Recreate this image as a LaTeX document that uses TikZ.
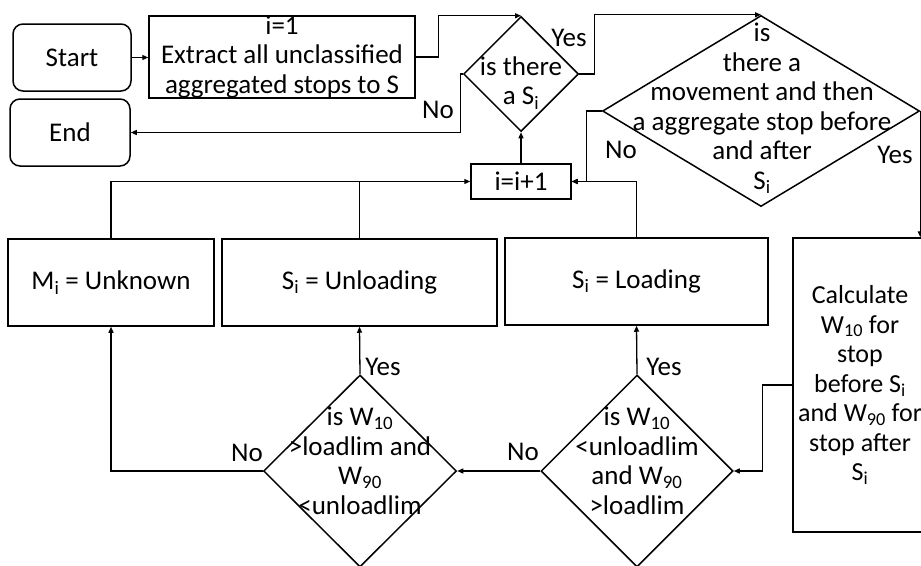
\documentclass[tikz,border=0pt]{standalone}
\usepackage{fontspec}
\setmainfont{Carlito}
\usetikzlibrary{arrows.meta,shapes.geometric}
\begin{document}
\begin{tikzpicture}[x=1pt,y=-1pt,
  every node/.style={font=\fontsize{27}{29.5}\selectfont},
  box/.style={draw,line width=1.5pt,inner sep=0pt,align=center},
  rbox/.style={box,rounded corners=10pt},
  dia/.style={draw,line width=1.5pt,diamond,inner sep=0pt,aspect=1},
  txt/.style={inner sep=0pt,align=center},
  lbl/.style={inner sep=0pt},
  arr/.style={line width=1.3pt,-{Triangle[length=6pt,width=5pt]}},
  ln/.style={line width=1.3pt}]
\useasboundingbox (0,0) rectangle (921,565);

% terminals and first step
\node[rbox,minimum width=118,minimum height=67] (start) at (72,57.5) {Start};
\node[rbox,minimum width=120,minimum height=67] (end) at (70,132.5) {End};
\node[box,minimum width=266,minimum height=80] (extract) at (282,57) {i=1\\Extract all unclassified\\aggregated stops to S};

% decisions at the top
\node[dia,minimum width=115,minimum height=115] (d1) at (521,74) {};
\node[txt] (d1t) at (521,83) {is there\\a S\textsubscript{i}};
\node[dia,minimum width=317,minimum height=191] (d2) at (761,111) {};
\node[txt] (d2t) at (762,108.5) {is\\there a\\movement and then\\a aggregate stop before\\and after\\S\textsubscript{i}};

% counter
\node[box,minimum width=100,minimum height=35] (inc) at (521,181.5) {i=i+1};

% outcomes
\node[box,minimum width=206,minimum height=87] (unk) at (111,282.5) {M\textsubscript{i} = Unknown};
\node[box,minimum width=275,minimum height=87] (unl) at (359.5,282.5) {S\textsubscript{i} = Unloading};
\node[box,minimum width=263,minimum height=87] (lod) at (636.5,281.5) {S\textsubscript{i} = Loading};
\node[box,minimum width=134,minimum height=294,font=\fontsize{26}{29.5}\selectfont] (calc) at (860,385) {Calculate\\W\textsubscript{10} for\\stop\\before S\textsubscript{i}\\and W\textsubscript{90} for\\stop after\\S\textsubscript{i}};

% threshold decisions
\node[dia,minimum width=193,minimum height=192] (d3) at (360,471) {};
\node[txt] (d3t) at (360,461) {is W\textsubscript{10}\\>loadlim and\\W\textsubscript{90}\\<unloadlim};
\node[dia,minimum width=192,minimum height=192] (d4) at (637,471) {};
\node[txt] (d4t) at (637,461) {is W\textsubscript{10}\\<unloadlim\\and W\textsubscript{90}\\>loadlim};

% connectors
\draw[arr] (start.east) -- (start.east -| extract.west);
\draw[arr] (extract.east) -- ++(23,0) |- (d1.north);
\draw[arr] (d1.east) -- ++(15,0) |- (d2.north);
\draw[arr] (d1.west) -- ++(-2,0) |- (end.east);
\draw[arr] (inc.north) -- (d1.south);
\draw[arr] (d2.west) -- ++(-15,0) |- (inc.east);
\draw[arr] (d2.east) -- (d2.east |- calc.north);
\draw[arr] (unk.north) |- (inc.west);
\draw[ln] (unl.north) -- (unl.north |- inc.west);
\draw[arr] (lod.north) |- (inc.east);
\draw[arr] (calc.west) -- ++(-30,0) |- (d4.east);
\draw[arr] (d4.north) -- (lod.south);
\draw[arr] (d4.west) -- (d3.east);
\draw[arr] (d3.north) -- (unl.south);
\draw[arr] (d3.west) -| (unk.south);

% branch labels
\node[lbl] (y1) at (569,38) {Yes};
\node[lbl] (n1) at (438,110) {No};
\node[lbl] (n2) at (621,150) {No};
\node[lbl] (y2) at (895,155) {Yes};
\node[lbl] (y3) at (383,367) {Yes};
\node[lbl] (y4) at (664,367) {Yes};
\node[lbl] (n3) at (247,453) {No};
\node[lbl] (n4) at (523,452) {No};
\end{tikzpicture}
\end{document}
